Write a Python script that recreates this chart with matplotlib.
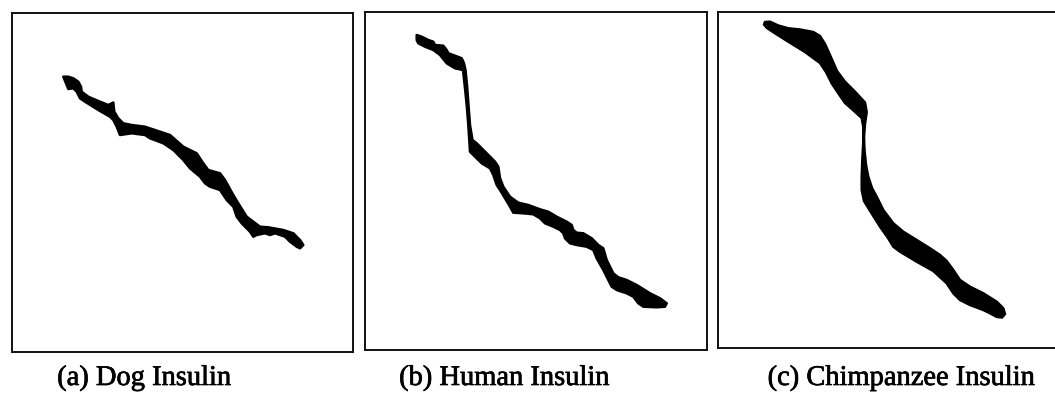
import numpy as np
import matplotlib
matplotlib.use('Agg')
import matplotlib.pyplot as plt
import matplotlib.patheffects as pe

# ============ 数据：各序列走势带的轮廓（图像像素坐标） ============
captions = ['(a) Dog Insulin', '(b) Human Insulin', '(c) Chimpanzee Insulin']

# (a) Dog: 上沿(起点->终点) + 下沿(终点->起点)
dog_x = [63.3, 68.3, 73.3, 78.3, 81.0, 81.7, 88.3, 98.3, 108.3, 113.3, 114.3, 118.3,
         123.3, 131.7, 145.0, 160.0, 170.0, 183.3, 196.7, 203.3, 208.3, 220.0, 225.0,
         233.3, 238.3, 246.7, 260.0, 268.3, 283.3, 293.3, 300.0, 303.3, 300.0,
         296.7, 290.0, 285.0, 280.0, 275.0, 270.0, 265.0, 256.7, 253.3, 250.0, 241.7,
         236.7, 233.3, 226.7, 220.0, 210.0, 205.0, 200.0, 190.0, 183.3, 173.3, 163.3,
         150.0, 145.0, 131.7, 120.0, 116.7, 113.3, 110.0, 98.3, 85.0, 80.0, 76.7,
         73.3, 68.3, 66.7]
dog_y = [76.7, 76.7, 78.3, 81.7, 86.7, 91.7, 96.7, 101.0, 105.0, 102.5, 111.7, 118.3,
         123.3, 125.0, 126.7, 131.7, 135.0, 146.7, 153.3, 163.3, 170.0, 173.3, 180.0,
         195.0, 203.3, 216.7, 226.7, 227.3, 230.0, 233.3, 240.0, 245.0, 248.3,
         246.7, 241.7, 236.7, 235.0, 233.3, 235.0, 233.3, 235.0, 236.7, 231.7, 223.3,
         216.7, 206.7, 200.0, 190.0, 186.7, 183.3, 176.7, 168.3, 160.0, 150.0, 143.3,
         138.3, 135.0, 133.3, 135.0, 126.7, 120.0, 116.7, 110.0, 101.7, 98.3, 91.7,
         88.3, 89.0, 85.0]

# (b) Human
human_x = [416.7, 421.7, 428.3, 433.3, 435.0, 443.3, 446.7, 448.3, 455.0, 461.7, 464.0,
           465.5, 467.0, 468.5, 470.0, 472.5, 476.7, 486.7, 495.0, 498.3, 500.0, 503.3,
           510.0, 518.3, 528.3, 540.0, 548.3, 556.7, 566.7, 571.7, 573.3, 576.7, 583.3,
           591.7, 598.3, 603.3, 606.7, 613.3, 618.3, 626.7, 636.7, 650.0, 660.0, 666.7,
           665.0,
           656.7, 643.3, 638.3, 633.3, 626.7, 616.7, 611.7, 608.3, 603.3, 596.7, 593.3,
           586.7, 576.7, 570.0, 565.0, 563.3, 560.0, 553.3, 545.0, 540.0, 533.3, 523.3,
           513.3, 510.0, 505.0, 500.0, 496.7, 493.3, 490.0, 481.7, 475.0, 470.0, 468.3,
           466.7, 465.0, 463.0, 455.0, 446.7, 440.0, 433.3, 425.0, 418.3, 416.7]
human_y = [35.0, 36.7, 40.0, 41.7, 45.0, 45.7, 50.0, 53.3, 55.7, 58.3, 63.3,
           70.0, 85.0, 105.0, 125.0, 140.0, 143.3, 153.3, 161.7, 166.7, 178.0, 186.7,
           196.7, 202.7, 205.0, 209.3, 211.7, 216.7, 221.7, 225.0, 230.0, 232.7, 233.3,
           238.3, 245.0, 248.3, 260.0, 273.3, 277.3, 280.0, 285.0, 293.3, 298.3, 303.3,
           306.7,
           307.3, 306.7, 303.3, 296.7, 293.3, 290.0, 286.7, 280.0, 270.0, 258.3, 250.0,
           246.7, 245.0, 243.3, 238.3, 233.3, 230.0, 226.7, 223.3, 218.3, 214.3, 213.3,
           212.7, 206.7, 198.3, 190.0, 185.0, 175.0, 168.3, 163.3, 156.7, 151.7, 125.0,
           105.0, 88.3, 70.0, 68.3, 63.3, 55.0, 50.0, 46.7, 43.3, 40.0]

# (c) Chimpanzee
chimp_x = [765.0, 770.0, 778.3, 788.3, 800.0, 813.3, 820.0, 825.0, 830.0, 837.0, 845.0,
           855.0, 865.0, 866.7, 865.0, 864.0, 864.5, 866.0, 868.3, 872.0, 876.7, 883.3,
           893.3, 903.3, 916.7, 930.0, 940.0, 946.7, 953.3, 960.0, 970.0, 983.3, 996.7,
           1003.3, 1005.0, 1002.0,
           997.0, 990.0, 983.3, 970.0, 960.0, 953.3, 946.7, 933.3, 916.7, 900.0, 893.3,
           888.0, 880.0, 872.0, 864.0, 861.7, 861.7, 862.3, 863.3, 863.3, 861.7, 853.0,
           845.0, 838.3, 831.7, 826.0, 820.0, 805.0, 788.3, 775.0, 767.0, 764.0]
chimp_y = [22.0, 21.7, 25.5, 28.3, 29.5, 32.0, 36.0, 44.0, 55.0, 71.0, 81.7,
           91.7, 102.5, 112.0, 124.0, 137.0, 150.0, 165.0, 176.7, 188.0, 196.7, 210.0,
           223.3, 231.7, 240.0, 248.3, 255.0, 261.0, 270.0, 280.0, 286.7, 293.3, 301.7,
           308.3, 314.0, 317.5,
           317.0, 313.3, 310.0, 305.0, 300.0, 293.3, 283.3, 271.0, 261.7, 251.7, 246.7,
           238.0, 226.7, 214.0, 201.0, 190.0, 176.7, 160.0, 142.0, 127.0, 118.0, 110.0,
           103.0, 93.3, 83.3, 72.0, 63.0, 52.0, 41.7, 33.3, 28.0, 24.5]

# ============ 画布布局（像素） ============
W, H = 1055, 393
boxes = [(12, 353, 13, 352), (365, 707, 12, 350), (718, 1062, 12, 348)]
caption_x = [144, 504, 901]
caption_base = 385

fig = plt.figure(figsize=(W / 100, H / 100), dpi=100)
fig.patch.set_facecolor('white')

outlines = [(dog_x, dog_y), (human_x, human_y), (chimp_x, chimp_y)]
for (x0, x1, y0, y1), (px, py), cap, cx in zip(boxes, outlines, captions, caption_x):
    ax = fig.add_axes([x0 / W, (H - y1) / H, (x1 - x0) / W, (y1 - y0) / H])
    ax.set_xlim(x0, x1)
    ax.set_ylim(y1, y0)
    ax.fill(px, py, facecolor='black', edgecolor='black', linewidth=1.8,
            joinstyle='round')
    ax.set_xticks([]); ax.set_yticks([])
    for s in ax.spines.values():
        s.set_linewidth(1.4)
        s.set_color('#111111')
    fig.text(cx / W, (H - caption_base) / H, cap, ha='center', va='baseline',
             fontsize=20.5, family='Liberation Serif', color='black',
             path_effects=[pe.withStroke(linewidth=0.5, foreground='black')])

fig.savefig('out.png', dpi=100)
